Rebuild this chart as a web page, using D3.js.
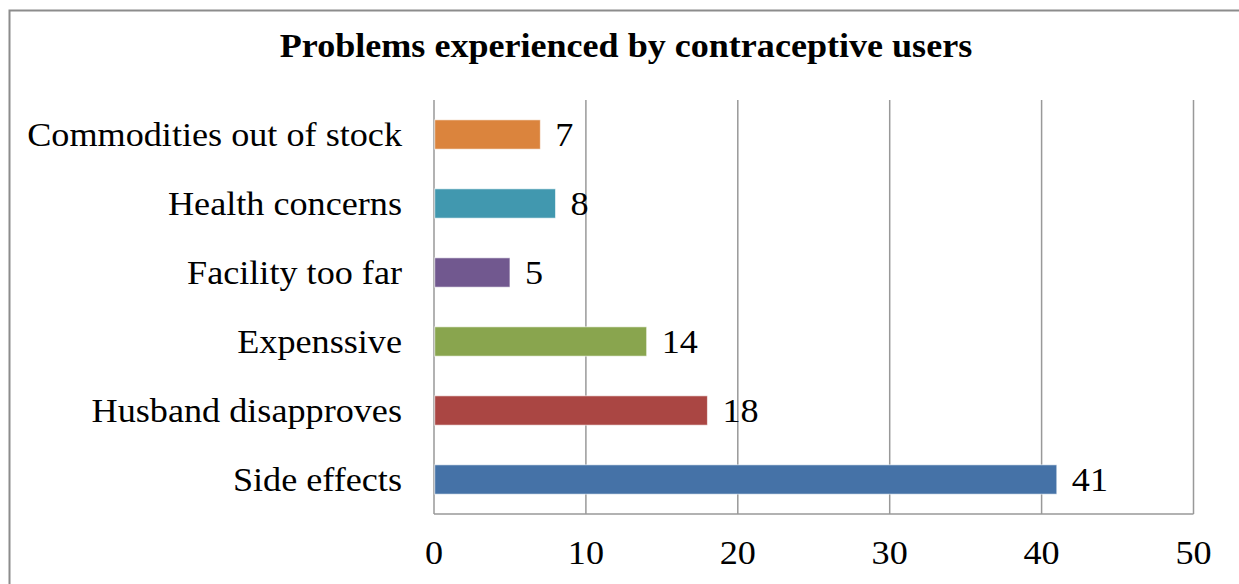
<!DOCTYPE html>
<html>
<head>
<meta charset="utf-8">
<script src="https://cdn.jsdelivr.net/npm/d3@7"></script>
<style>
  html, body { margin: 0; padding: 0; background: #fff; }
  svg { display: block; }
  text { font-family: "Liberation Serif", "Times New Roman", serif; fill: #000; }
</style>
</head>
<body>
<svg id="chart" width="1239" height="584"></svg>
<script>
// Problems reported by contraceptive users (counts)
const categories = [
  "Commodities out of stock",
  "Health concerns",
  "Facility too far",
  "Expenssive",
  "Husband disapproves",
  "Side effects"
];
const values = [7, 8, 5, 14, 18, 41];
const barColors = ["#DB843D", "#4198AF", "#71588F", "#89A54E", "#AA4643", "#4572A7"];
const tickValues = [0, 10, 20, 30, 40, 50];
const title = "Problems experienced by contraceptive users";

const W = 1239, H = 584;
const plot = { left: 434, right: 1193.5, top: 100, bottom: 514 };
const stretch = 1.08;      // slight horizontal widening of the serif text
const fontSize = 33.5;

const svg = d3.select("#chart");

// chart frame
svg.append("rect")
  .attr("x", 9.5).attr("y", 10.5)
  .attr("width", W + 20).attr("height", H + 20)
  .attr("fill", "none")
  .attr("stroke", "#8c8c8c")
  .attr("stroke-width", 2);

const x = d3.scaleLinear().domain([0, 50]).range([plot.left, plot.right]);
const y = d3.scaleBand()
  .domain(categories)
  .range([plot.top, plot.bottom])
  .paddingInner(0.575)
  .paddingOuter(0.2875);

// helper: text widened horizontally around its anchor point
function label(g, tx, ty, str, anchor, weight, size) {
  g.append("text")
    .attr("transform", `translate(${tx},${ty}) scale(${stretch},1)`)
    .attr("text-anchor", anchor)
    .attr("font-size", size || fontSize)
    .attr("font-weight", weight || "normal")
    .text(str);
}

// vertical gridlines
svg.append("g")
  .selectAll("line")
  .data(tickValues)
  .join("line")
  .attr("x1", d => x(d)).attr("x2", d => x(d))
  .attr("y1", plot.top).attr("y2", plot.bottom)
  .attr("stroke", "#999")
  .attr("stroke-width", 1.5);

// bottom axis line
svg.append("line")
  .attr("x1", plot.left).attr("x2", plot.right)
  .attr("y1", plot.bottom).attr("y2", plot.bottom)
  .attr("stroke", "#999")
  .attr("stroke-width", 1.5);

// bars
svg.append("g")
  .selectAll("rect")
  .data(categories)
  .join("rect")
  .attr("x", x(0) + 0.75)
  .attr("y", d => y(d))
  .attr("width", (d, i) => x(values[i]) - x(0) - 0.75)
  .attr("height", y.bandwidth())
  .attr("fill", (d, i) => barColors[i])
  .attr("stroke", "rgba(255,255,255,0.6)")
  .attr("stroke-width", 1);

// category labels
const catG = svg.append("g");
categories.forEach(c => label(catG, 402, y(c) + y.bandwidth() / 2 + 11, c, "end"));

// value labels
const valG = svg.append("g");
categories.forEach((c, i) => label(valG, x(values[i]) + 15, y(c) + y.bandwidth() / 2 + 11, String(values[i]), "start"));

// x tick labels
const tickG = svg.append("g");
tickValues.forEach(t => label(tickG, x(t), 564, String(t), "middle"));

// title
label(svg.append("g"), 626, 57, title, "middle", "bold", 33.4);
</script>
</body>
</html>
